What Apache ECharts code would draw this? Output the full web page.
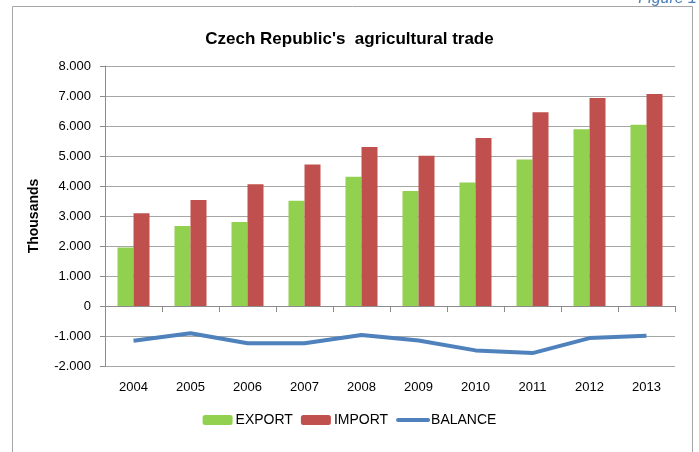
<!DOCTYPE html>
<html>
<head>
<meta charset="utf-8">
<script src="https://cdn.jsdelivr.net/npm/echarts@6/dist/echarts.min.js"></script>
<style>
  html, body { margin: 0; padding: 0; background: #fff; }
  #box { width: 699px; height: 452px; }
</style>
</head>
<body>
<div id="box"></div>
<script>
var years = ['2004', '2005', '2006', '2007', '2008', '2009', '2010', '2011', '2012', '2013'];
// values in thousands
var exportVals = [1950, 2670, 2800, 3510, 4310, 3830, 4120, 4880, 5890, 6040];
var importVals = [3090, 3530, 4060, 4720, 5300, 5010, 5600, 6460, 6930, 7070];
var balanceVals = [-1160, -910, -1240, -1240, -970, -1150, -1480, -1570, -1070, -990];
var yTicks = [-2000, 8000, 1000]; // min, max, step

var myChart = echarts.init(document.getElementById('box'));
var fontName = 'Liberation Sans';

function dotted(v) {
  // 8000 -> "8.000"
  var s = String(Math.abs(v)).replace(/\B(?=(\d{3})+(?!\d))/g, '.');
  return (v < 0 ? '-' : '') + s;
}

var option = {
  animation: false,
  textStyle: { fontFamily: fontName },
  title: {
    text: "Czech Republic's  agricultural trade",
    left: 'center',
    top: 26,
    textStyle: { fontSize: 17, fontWeight: 'bold', color: '#000', fontFamily: fontName }
  },
  graphic: [
    {
      type: 'rect',
      shape: { x: 12.5, y: 6.5, width: 680, height: 470 },
      style: { fill: 'none', stroke: '#a6a6a6', lineWidth: 1 },
      z: -1
    },
    {
      type: 'text',
      right: 2,
      top: -9,
      style: { text: 'Figure 1', fill: '#4a7ebb', font: 'italic 16px ' + fontName }
    }
  ],
  legend: {
    bottom: 20,
    left: 'center',
    itemWidth: 30,
    itemHeight: 10,
    itemGap: 8,
    textStyle: { fontSize: 14, color: '#000', fontFamily: fontName, padding: [0, 0, 0, -2] },
    data: [
      'EXPORT',
      'IMPORT',
      { name: 'BALANCE', itemStyle: { opacity: 0 }, lineStyle: { width: 4, cap: 'round' } }
    ]
  },
  grid: { left: 105, right: 24, top: 66, bottom: 86 },
  xAxis: [
    {
      type: 'category',
      data: years,
      position: 'bottom',
      axisLine: { show: false, onZero: false },
      axisTick: { show: false },
      axisLabel: { fontSize: 13, color: '#000', margin: 15 },
      splitLine: { show: false }
    },
    {
      type: 'category',
      data: years,
      position: 'bottom',
      axisLine: { show: true, onZero: true, onZeroAxisIndex: 0, lineStyle: { color: '#8c8c8c', width: 1 } },
      axisTick: { show: true, length: 6, lineStyle: { color: '#8c8c8c' } },
      axisLabel: { show: false },
      splitLine: { show: false }
    }
  ],
  yAxis: {
    type: 'value',
    min: yTicks[0],
    max: yTicks[1],
    interval: yTicks[2],
    name: 'Thousands',
    nameLocation: 'middle',
    nameGap: 64,
    nameTextStyle: { fontSize: 14, fontWeight: 'bold', color: '#000' },
    axisLine: { show: true, lineStyle: { color: '#8c8c8c' } },
    axisTick: { show: true, length: 5, lineStyle: { color: '#8c8c8c' } },
    axisLabel: { fontSize: 13, color: '#000', margin: 14, formatter: dotted },
    splitLine: { lineStyle: { color: '#a6a6a6', width: 1 } }
  },
  series: [
    {
      name: 'EXPORT',
      type: 'bar',
      xAxisIndex: 0,
      data: exportVals,
      barWidth: 16,
      barGap: '0%',
      itemStyle: { color: '#92d050' }
    },
    {
      name: 'IMPORT',
      type: 'bar',
      xAxisIndex: 0,
      data: importVals,
      barWidth: 16,
      barGap: '0%',
      itemStyle: { color: '#c0504d' }
    },
    {
      name: 'BALANCE',
      type: 'line',
      xAxisIndex: 0,
      data: balanceVals,
      symbol: 'none',
      lineStyle: { color: '#4f81bd', width: 4 },
      itemStyle: { color: '#4f81bd' }
    }
  ]
};
myChart.setOption(option);
</script>
</body>
</html>
